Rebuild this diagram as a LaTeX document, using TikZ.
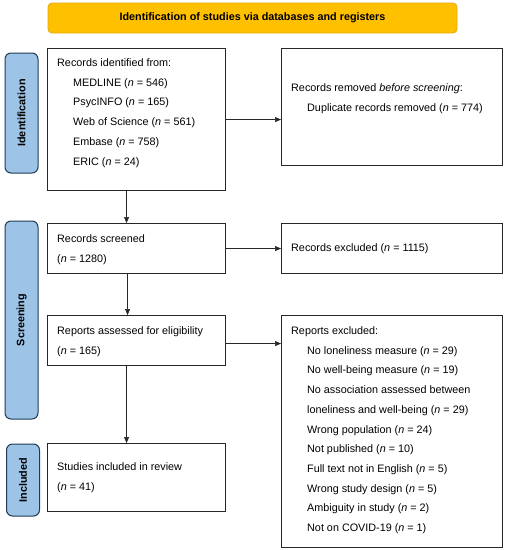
\documentclass[tikz,border=0pt]{standalone}
\usepackage{fontspec}
\setmainfont{Liberation Sans}
\usetikzlibrary{positioning,arrows.meta}
\definecolor{bannerfill}{HTML}{FFC000}
\definecolor{bannerdraw}{HTML}{E0AA10}
\definecolor{phasefill}{HTML}{9DC3E6}
\definecolor{phasedraw}{HTML}{1F3B57}
\newcommand{\nn}{\textit{n}}
\newcommand{\ind}{\hspace*{16pt}}
\tikzset{
  banner/.style={rectangle, rounded corners=4pt, minimum width=409pt, minimum height=30pt, draw=bannerdraw, fill=bannerfill, line width=0.8pt, font=\bfseries\fontsize{10.8}{12}\selectfont},
  phase/.style={rectangle, rounded corners=6pt, rotate=90, minimum height=33pt, draw=phasedraw, fill=phasefill, line width=1pt, font=\bfseries\fontsize{10.8}{12}\selectfont},
  box/.style={rectangle, draw=black!85, line width=1.1pt, anchor=north west, inner sep=0pt},
  txt/.style={anchor=north west, align=left, inner sep=0pt, font=\fontsize{10.8}{19.7}\selectfont},
  arr/.style={-{Triangle[length=6pt,width=5pt]}, line width=0.6pt, black!85}
}
\begin{document}
\begin{tikzpicture}[x=1pt, y=-1pt]
	\useasboundingbox (0,0) rectangle (506,550);
	\node[banner] (head) at (252.5,18) {Identification of studies via databases and registers};
	% phases
	\node[phase, minimum width=120pt] (ident) at (21.5,113) {Identification};
	\node[phase, minimum width=198pt] (screen) at (21.5,320) {Screening};
	\node[phase, minimum width=72pt] (incl) at (23,480) {Included};
	% boxes
	\node[box, minimum width=178pt, minimum height=142pt] (idbox) at (47,48) {};
	\node[box, minimum width=221pt, minimum height=117pt] (rembox) at (281,48) {};
	\node[box, minimum width=178pt, minimum height=50pt] (scrbox) at (47,223) {};
	\node[box, minimum width=221pt, minimum height=50pt] (exbox) at (281,223) {};
	\node[box, minimum width=178pt, minimum height=50pt] (elbox) at (47,315) {};
	\node[box, minimum width=221pt, minimum height=232pt] (repbox) at (281,315) {};
	\node[box, minimum width=178pt, minimum height=68pt] (inbox) at (47,443) {};
	% texts
	\node[txt] (idtext) at ([xshift=10pt,yshift=-10.5pt]idbox.north west)
		{Records identified from:\\ \ind MEDLINE (\nn{} = 546)\\ \ind PsycINFO (\nn{} = 165)\\ \ind Web of Science (\nn{} = 561)\\ \ind Embase (\nn{} = 758)\\ \ind ERIC (\nn{} = 24)};
	\node[txt] (remtext) at ([xshift=10pt,yshift=-35.5pt]rembox.north west)
		{Records removed \textit{before screening}:\\ \ind Duplicate records removed (\nn{} = 774)};
	\node[txt] (scrtext) at ([xshift=10pt,yshift=-11.5pt]scrbox.north west)
		{Records screened\\ (\nn{} = 1280)};
	\node[txt] (extext) at ([xshift=10pt,yshift=-20.5pt]exbox.north west)
		{Records excluded (\nn{} = 1115)};
	\node[txt] (eltext) at ([xshift=10pt,yshift=-11.5pt]elbox.north west)
		{Reports assessed for eligibility\\ (\nn{} = 165)};
	\node[txt] (reptext) at ([xshift=10pt,yshift=-11.5pt]repbox.north west)
		{Reports excluded:\\ \ind No loneliness measure (\nn{} = 29)\\ \ind No well-being measure (\nn{} = 19)\\ \ind No association assessed between\\ \ind loneliness and well-being (\nn{} = 29)\\ \ind Wrong population (\nn{} = 24)\\ \ind Not published (\nn{} = 10)\\ \ind Full text not in English (\nn{} = 5)\\ \ind Wrong study design (\nn{} = 5)\\ \ind Ambiguity in study (\nn{} = 2)\\ \ind Not on COVID-19 (\nn{} = 1)};
	\node[txt] (intext) at ([xshift=10pt,yshift=-19.5pt]inbox.north west)
		{Studies included in review\\ (\nn{} = 41)};
	% arrows
	\draw[arr] (idbox.east) -- (idbox.east -| rembox.west);
	\draw[arr] (scrbox.east) -- (scrbox.east -| exbox.west);
	\draw[arr] ([yshift=-3pt]elbox.east) -- ([yshift=-3pt]elbox.east -| repbox.west);
	\draw[arr] ([xshift=-10pt]idbox.south) -- ([xshift=-10pt]scrbox.north);
	\draw[arr] ([xshift=-9pt]scrbox.south) -- ([xshift=-9pt]elbox.north);
	\draw[arr] ([xshift=-10pt]elbox.south) -- ([xshift=-10pt]inbox.north);
\end{tikzpicture}
\end{document}
